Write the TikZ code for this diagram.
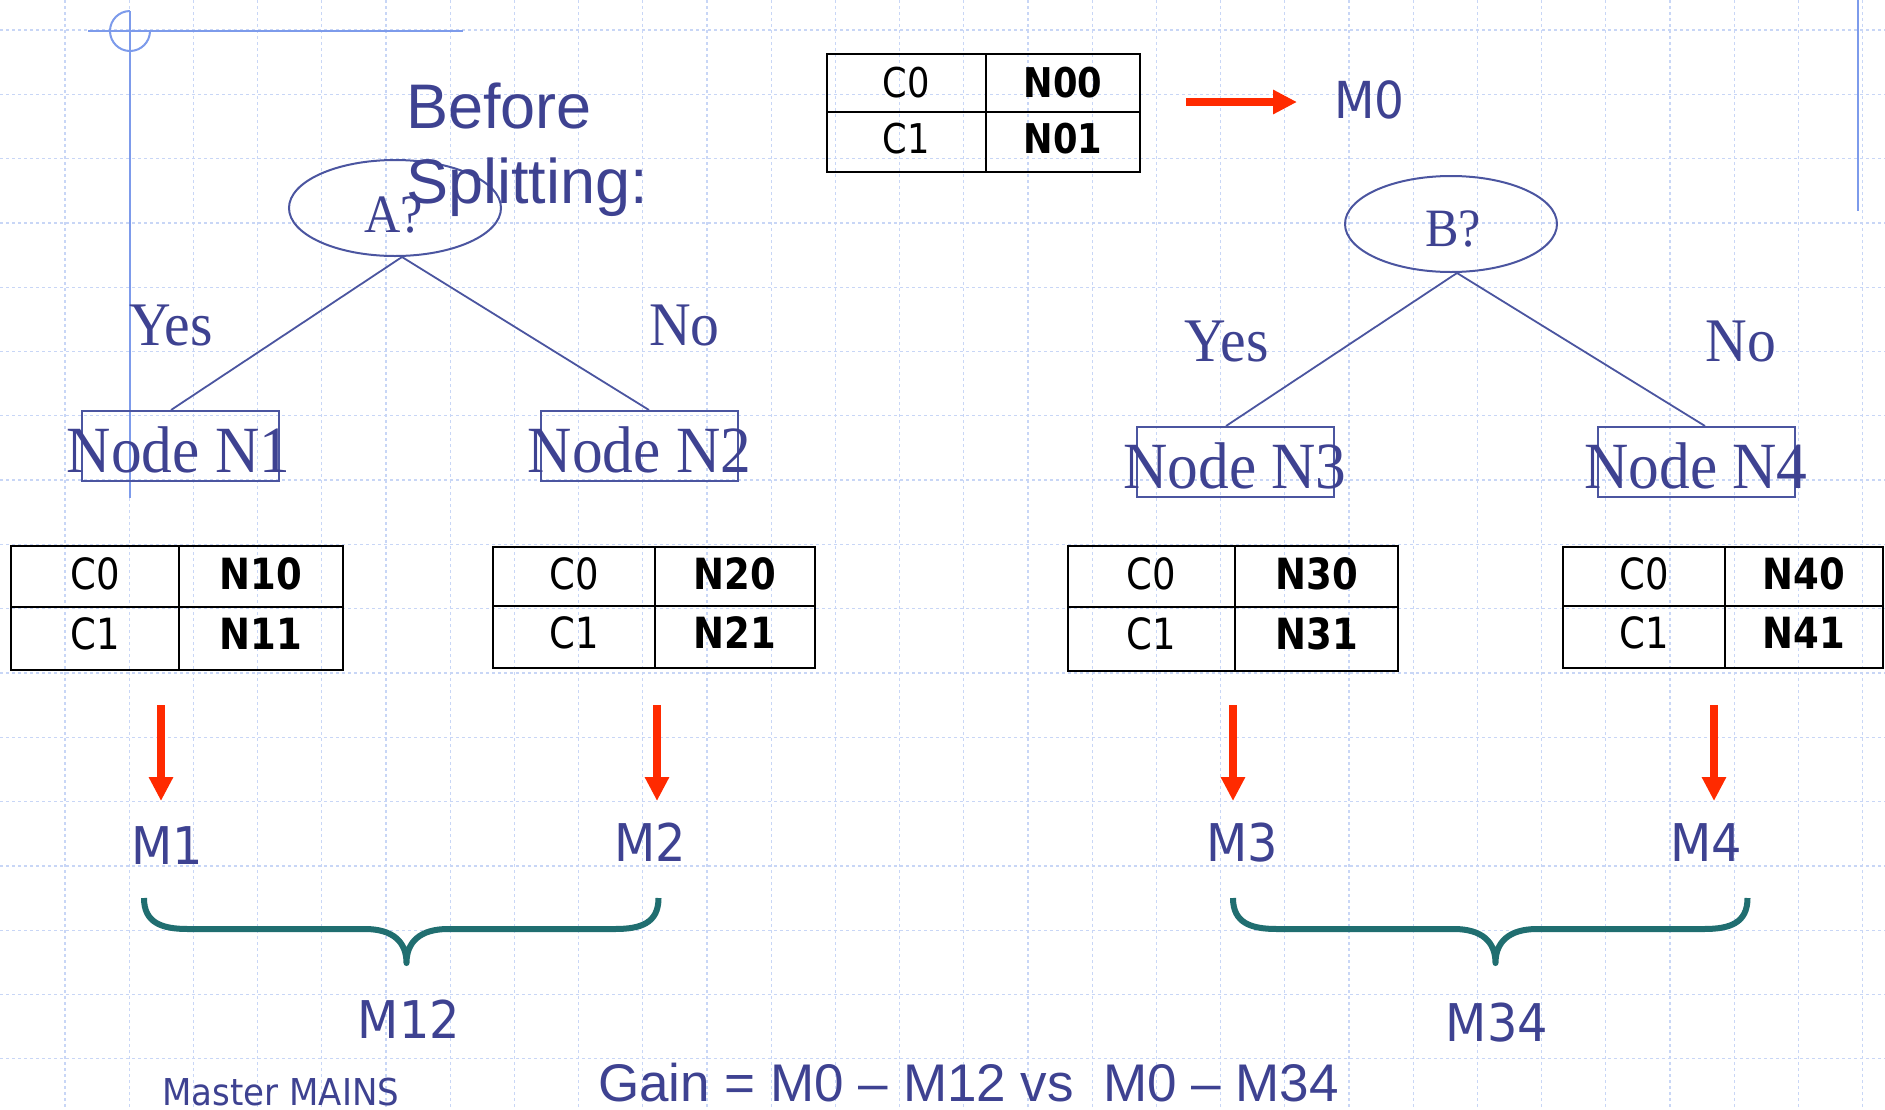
\documentclass[tikz,border=0pt]{standalone}
\usepackage{fontspec}
\setmainfont{Liberation Serif}
\newfontfamily\arialf{Liberation Sans}
\newfontfamily\tahomaf[FakeStretch=0.86]{DejaVu Sans}
\newfontfamily\tahomab[FakeStretch=0.92]{DejaVu Sans}
\newfontfamily\timesf[FakeStretch=0.93]{Liberation Serif}
\usetikzlibrary{shapes.geometric,arrows.meta}
\definecolor{purp}{RGB}{62,66,145}
\definecolor{boxc}{RGB}{75,85,160}
\definecolor{gridc}{RGB}{200,214,246}
\definecolor{crossc}{RGB}{125,155,235}
\definecolor{redc}{RGB}{255,42,0}
\definecolor{tealc}{RGB}{32,110,112}
\tikzset{
  gridline/.style={draw=gridc, line width=1.3pt, dash pattern=on 3pt off 3pt},
  crossline/.style={draw=crossc, line width=2pt},
  tbl/.style={draw=black, line width=2.4pt},
  tcell/.style={font={\tahomaf\fontsize{43}{43}\selectfont}, text=black, anchor=base, inner sep=0pt},
  tcellb/.style={font={\tahomaf\bfseries\fontsize{43}{43}\selectfont}, text=black, anchor=base, inner sep=0pt},
  tcellz/.style={font={\tahomaf\fontsize{41}{41}\selectfont}, text=black, anchor=base, inner sep=0pt},
  tcellzb/.style={font={\tahomaf\bfseries\fontsize{41}{41}\selectfont}, text=black, anchor=base, inner sep=0pt},
  redarrow/.style={draw=redc, line width=7.5pt, -{Triangle[length=24pt,width=23pt]}},
  nbox/.style={draw=boxc, line width=2pt, minimum width=197pt, minimum height=70pt, inner sep=0pt},
  qell/.style={ellipse, draw=boxc, line width=2pt, minimum width=212pt, minimum height=96pt, inner sep=0pt},
  treeline/.style={draw=boxc, line width=1.8pt},
  treetxt/.style={font={\timesf\fontsize{66}{66}\selectfont}, text=purp, anchor=base, inner sep=0pt},
  yntxt/.style={font={\timesf\fontsize{62}{62}\selectfont}, text=purp, anchor=base, inner sep=0pt},
  qtxt/.style={font={\timesf\fontsize{54}{54}\selectfont}, text=purp, anchor=base, inner sep=0pt},
  mlab/.style={font={\tahomab\fontsize{52}{52}\selectfont}, text=purp, anchor=base, inner sep=0pt},
  bracec/.style={draw=tealc, line width=6pt, line join=round},
  mybrace/.pic={
    \draw[bracec] (0,0) .. controls (0,25) and (18,31) .. (44,31) -- (221,31)
      .. controls (249,31) and (262.5,44) .. (262.5,65)
      .. controls (262.5,44) and (276,31) .. (304,31) -- (471,31)
      .. controls (497,31) and (514.5,25) .. (514.5,0);
  }
}
\begin{document}
\begin{tikzpicture}[x=1pt,y=-1pt]
\useasboundingbox (0,0) rectangle (1885,1109);
\fill[white] (0,0) rectangle (1885,1109);
% grid
\foreach \k in {0,...,28} \draw[gridline] ({65+64.2*\k},0) -- ({65+64.2*\k},1109);
\foreach \k in {0,...,16} \draw[gridline] (0,{30+64.3*\k}) -- (1885,{30+64.3*\k});
% crosshair
\draw[crossline] (88,31) -- (463,31);
\draw[crossline] (130,11) -- (130,498);
\draw[crossline] (130,11) arc[start angle=90,end angle=360,radius=20pt];
\draw[crossline] (1858,0) -- (1858,211);

% top table
\draw[tbl] (827,54) rectangle (1140,172);
\draw[tbl] (986,54) -- (986,172);
\draw[tbl] (827,112) -- (1140,112);
\node[tcellz] (t0a) at (906,97) {C0};
\node[tcellzb] (t0b) at (1063,97) {N00};
\node[tcellz] (t0c) at (906,153) {C1};
\node[tcellzb] (t0d) at (1063,153) {N01};
\coordinate (a0s) at (1186,102);
\coordinate (a0e) at (1297,102);
\draw[redarrow] (a0s) -- (a0e);
\node[font={\tahomab\fontsize{51}{51}\selectfont}, text=purp, anchor=base west, inner sep=0pt] (M0) at (1334,118) {M0};

% tree A
\node[qell] (A) at (395,208) {};
\node[qtxt] (At) at (394,232) {A?};
\node[nbox] (N1) at (180.5,446) {};
\node[nbox] (N2) at (639,446) {};
\draw[treeline] ([xshift=7pt]A.south) -- ([xshift=-9.5pt]N1.north);
\draw[treeline] ([xshift=7pt]A.south) -- ([xshift=10pt]N2.north);
\node[treetxt] (N1t) at (178.5,472) {Node N1};
\node[treetxt] (N2t) at (639.5,472) {Node N2};
\node[yntxt] (Y1) at (171,345) {Yes};
\node[yntxt] (No1) at (684.5,345) {No};
\node[font={\arialf\fontsize{63}{63}\selectfont}, text=purp, anchor=base west, inner sep=0pt] (bs1) at (406,128) {Before};
\node[font={\arialf\fontsize{63}{63}\selectfont}, text=purp, anchor=base west, inner sep=0pt] (bs2) at (406,203) {Splitting:};

% tree B
\node[qell] (B) at (1451,224) {};
\node[qtxt] (Bt) at (1453,246) {B?};
\node[nbox] (N3) at (1235,462) {};
\node[nbox] (N4) at (1696,462) {};
\draw[treeline] ([xshift=6pt]B.south) -- ([xshift=-9pt]N3.north);
\draw[treeline] ([xshift=6pt]B.south) -- ([xshift=9pt]N4.north);
\node[treetxt] (N3t) at (1235,488) {Node N3};
\node[treetxt] (N4t) at (1696,488) {Node N4};
\node[yntxt] (Y2) at (1226.5,361) {Yes};
\node[yntxt] (No2) at (1741,361) {No};

% tables
\draw[tbl] (11,546) rectangle (343,670);
\draw[tbl] (179,546) -- (179,670);
\draw[tbl] (11,607) -- (343,607);
\node[tcell] (t1a) at (95,589) {C0};
\node[tcellb] (t1b) at (261,589) {N10};
\node[tcell] (t1c) at (95,649) {C1};
\node[tcellb] (t1d) at (261,649) {N11};

\draw[tbl] (493,547) rectangle (815,668);
\draw[tbl] (655,547) -- (655,668);
\draw[tbl] (493,606) -- (815,606);
\node[tcell] (t2a) at (574,589) {C0};
\node[tcellb] (t2b) at (735,589) {N20};
\node[tcell] (t2c) at (574,648) {C1};
\node[tcellb] (t2d) at (735,648) {N21};

\draw[tbl] (1068,546) rectangle (1398,671);
\draw[tbl] (1235,546) -- (1235,671);
\draw[tbl] (1068,607) -- (1398,607);
\node[tcell] (t3a) at (1151.5,589) {C0};
\node[tcellb] (t3b) at (1316.5,589) {N30};
\node[tcell] (t3c) at (1151.5,649) {C1};
\node[tcellb] (t3d) at (1316.5,649) {N31};

\draw[tbl] (1563,547) rectangle (1883,668);
\draw[tbl] (1725,547) -- (1725,668);
\draw[tbl] (1563,606) -- (1883,606);
\node[tcell] (t4a) at (1644,589) {C0};
\node[tcellb] (t4b) at (1804,589) {N40};
\node[tcell] (t4c) at (1644,648) {C1};
\node[tcellb] (t4d) at (1804,648) {N41};

% red arrows
\coordinate (a1s) at (161,705); \coordinate (a1e) at (161,801);
\coordinate (a2s) at (657,705); \coordinate (a2e) at (657,801);
\coordinate (a3s) at (1233,705); \coordinate (a3e) at (1233,801);
\coordinate (a4s) at (1714,705); \coordinate (a4e) at (1714,801);
\draw[redarrow] (a1s) -- (a1e);
\draw[redarrow] (a2s) -- (a2e);
\draw[redarrow] (a3s) -- (a3e);
\draw[redarrow] (a4s) -- (a4e);

\node[mlab] (M1) at (167.5,864) {M1};
\node[mlab] (M2) at (650,861) {M2};
\node[mlab] (M3) at (1242,861) {M3};
\node[mlab] (M4) at (1706.5,861) {M4};

% braces
\pic at (144,898) {mybrace};
\pic at (1233,898) {mybrace};
\node[mlab] (M12) at (409,1038) {M12};
\node[mlab] (M34) at (1497,1041) {M34};

\node[font={\tahomab\fontsize{37}{37}\selectfont}, text=purp, anchor=base, inner sep=0pt] (mm) at (281,1105) {Master MAINS};
\node[font={\arialf\fontsize{53}{53}\selectfont}, text=purp, anchor=base west, inner sep=0pt] (gain) at (598,1101) {Gain = M0 – M12 vs\ \ M0 – M34};
\end{tikzpicture}
\end{document}
